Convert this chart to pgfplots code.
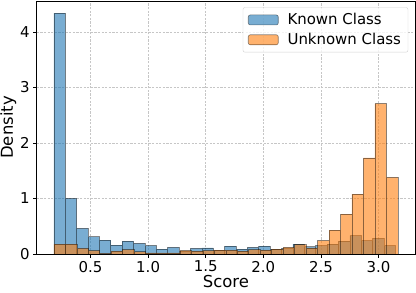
\documentclass[border=0pt]{standalone}
\usepackage{pgfplots}
\pgfplotsset{compat=1.18}
\usepackage{fontspec}
\setmainfont{DejaVu Sans}
\definecolor{tabblue}{HTML}{1F77B4}
\definecolor{taborange}{HTML}{FF7F0E}
\begin{document}
\begin{tikzpicture}
\begin{axis}[
  at={(36.7bp,39bp)}, anchor=south west,
  scale only axis, width=378.3bp, height=253bp,
  xmin=0.033, xmax=3.316, ymin=0, ymax=4.557,
  xtick={0.5,1.0,1.5,2.0,2.5,3.0},
  ytick={0,1,2,3,4},
  xticklabel style={/pgf/number format/.cd, fixed, fixed zerofill, precision=1},
  /pgf/number format/assume math mode=true,
  ticklabel style={font=\fontsize{15}{17}\selectfont},
  tick align=outside, tick pos=left,
  major tick length=3.5bp,
  every tick/.style={black, line width=0.8bp},
  axis line style={black, line width=0.8bp},
  grid=major,
  major grid style={gray!45, line width=0.5bp, dash pattern=on 2.2bp off 1.4bp},
  xlabel={Score}, ylabel={Density},
  label style={font=\fontsize{16.5}{19}\selectfont},
  xlabel style={yshift=4bp},
  ylabel style={yshift=-3bp},
  legend style={at={(0.982,0.975)}, anchor=north east, draw=gray!35, rounded corners=2pt,
    fill=white, fill opacity=0.8, text opacity=1, font=\fontsize{15}{17}\selectfont,
    row sep=3bp, inner xsep=5bp, inner ysep=4bp},
  legend cell align=left,
  legend image code/.code={\draw[#1] (0bp,-5bp) rectangle (30bp,5bp); \path (37bp,0bp);},
]
\addplot[ybar interval, fill=tabblue, fill opacity=0.6, draw=black, draw opacity=0.45, line width=0.6bp] coordinates {
(0.182,4.34) (0.2808,1.00) (0.3796,0.46) (0.4784,0.31) (0.5772,0.25)
(0.676,0.16) (0.7748,0.23) (0.8736,0.19) (0.9724,0.15) (1.0712,0.09)
(1.170,0.12) (1.2688,0.05) (1.3676,0.10) (1.4664,0.11) (1.5652,0.06)
(1.664,0.14) (1.7628,0.09) (1.8616,0.12) (1.9604,0.14) (2.0592,0.09)
(2.158,0.10) (2.2568,0.18) (2.3556,0.13) (2.4544,0.15) (2.5532,0.18)
(2.652,0.23) (2.7508,0.33) (2.8496,0.24) (2.9484,0.28) (3.0472,0.15)
(3.146,0.15)
};
\addlegendentry{Known Class}
\addplot[ybar interval, fill=taborange, fill opacity=0.6, draw=black, draw opacity=0.45, line width=0.6bp] coordinates {
(0.182,0.18) (0.2815,0.18) (0.381,0.10) (0.4805,0.06) (0.58,0.01)
(0.6795,0.05) (0.779,0.08) (0.8785,0.04) (0.978,0.02) (1.0775,0.02)
(1.177,0.02) (1.2765,0.06) (1.376,0.05) (1.4755,0.06) (1.575,0.07)
(1.6745,0.07) (1.774,0.05) (1.8735,0.08) (1.973,0.07) (2.0725,0.09)
(2.172,0.12) (2.2715,0.17) (2.371,0.11) (2.4705,0.24) (2.57,0.43)
(2.6695,0.72) (2.769,1.08) (2.8685,1.73) (2.968,2.71) (3.0675,1.38)
(3.167,1.38)
};
\addlegendentry{Unknown Class}
\end{axis}
\pgfresetboundingbox
\path[use as bounding box] (0bp,0bp) rectangle (416bp,293bp);
\end{tikzpicture}
\end{document}
